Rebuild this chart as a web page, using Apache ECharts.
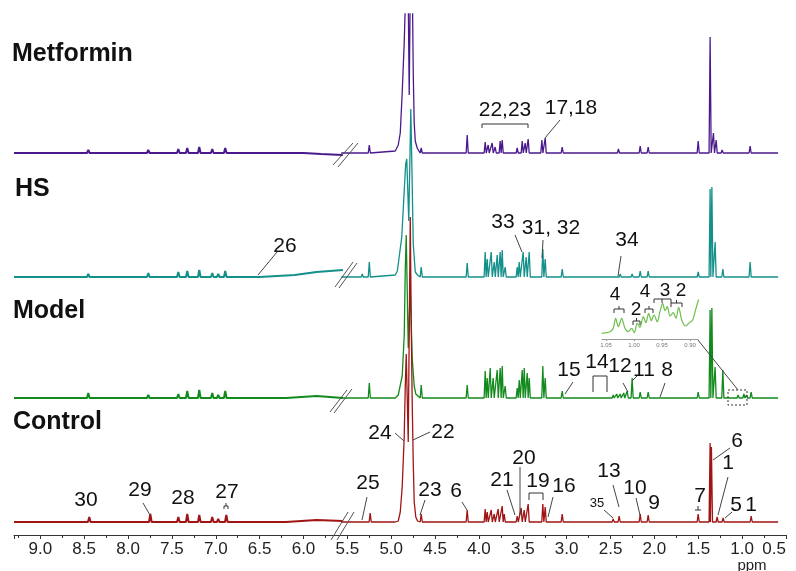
<!DOCTYPE html>
<html><head><meta charset="utf-8">
<script src="https://cdn.jsdelivr.net/npm/echarts@6/dist/echarts.min.js"></script>
<style>html,body{margin:0;padding:0;background:#fff}#c{width:796px;height:571px}</style>
</head><body><div id="c"></div>
<script>
// ---------------- DATA (ppm, intensity above each trace's own baseline) ----------------
const traceNames = ['Metformin', 'HS', 'Model', 'Control'];

// left part (9.3 - 5.55 ppm): broad shape + sharp peaks
const metforminLeftShape = [[9.3,0],[6.0,0],[5.8,-1],[5.55,-2]];
const metforminLeftPeaks = [[8.453,3],[7.769,3],[7.427,4],[7.325,5],[7.188,6],[7.040,4],[6.972,2],[6.892,5]];
const hsLeftShape = [[9.3,0],[6.5,0],[6.1,2],[5.85,5],[5.55,7]];
const hsLeftPeaks = [[8.453,3],[7.769,4],[7.427,5],[7.325,6],[7.188,7],[7.040,4],[6.972,3],[6.892,6]];
const modelLeftShape = [[9.3,0],[6.2,0],[5.85,2],[5.55,0]];
const modelLeftPeaks = [[8.453,5],[7.769,3],[7.427,4],[7.325,7],[7.188,8],[7.040,5],[6.972,3],[6.892,7]];
const controlLeftShape = [[9.3,0],[6.2,0],[5.85,2],[5.55,1]];
const controlLeftPeaks = [[8.442,5],[7.746,8],[7.427,5],[7.325,8],[7.188,7],[7.040,5],[6.972,3],[6.880,7]];

// right part (5.57 - 0.59 ppm): water region shape + sharp peaks
const metforminRightShape = [[5.57,0],[4.954,2],[4.920,8],[4.897,20],[4.875,60],[4.852,110],[4.829,180],[4.818,260],[4.795,58],[4.772,260],[4.761,180],[4.749,80],[4.738,30],[4.726,12],[4.704,5],[4.690,3],[0.59,0]];
const metforminRightPeaks = [[5.33,2],[5.25,8],[4.658,5],[4.134,18],[3.929,11],[3.895,8],[3.849,10],[3.815,6],[3.758,12],[3.735,13],[3.564,5],[3.507,12],[3.473,10],[3.439,14],[3.283,13],[3.245,15],[3.051,6],[2.410,4],[2.162,7],[2.071,6],[1.501,12],[1.365,116],[1.327,20],[1.296,13],[1.228,3],[1.057,1],[0.989,2],[0.909,7]];
const hsRightShape = [[5.57,0],[4.954,2],[4.930,6],[4.880,40],[4.852,86],[4.835,113],[4.823,118],[4.800,56],[4.777,168],[4.761,93],[4.749,33],[4.726,5],[4.700,2],[0.59,0]];
const hsRightPeaks = [[5.33,3],[5.25,15],[4.658,10],[4.134,14],[3.929,25],[3.906,18],[3.860,25],[3.826,15],[3.792,22],[3.758,25],[3.735,27],[3.701,10],[3.564,10],[3.541,15],[3.496,25],[3.462,20],[3.427,25],[3.272,28],[3.245,18],[3.051,8],[2.823,2],[2.390,3],[2.254,3],[2.162,6],[2.071,6],[1.501,5],[1.365,88],[1.345,90],[1.308,35],[1.220,8],[0.909,15]];
const modelRightShape = [[5.57,0],[4.954,0],[4.920,3],[4.875,22],[4.852,62],[4.840,128],[4.829,163],[4.806,50],[4.783,110],[4.761,40],[4.738,12],[4.720,4],[4.700,2],[0.59,0]];
const modelRightPeaks = [[5.33,1],[5.25,15],[4.658,13],[4.134,13],[3.929,27],[3.906,20],[3.872,30],[3.838,20],[3.792,28],[3.758,30],[3.735,32],[3.701,12],[3.564,10],[3.541,18],[3.507,28],[3.484,30],[3.450,25],[3.427,20],[3.272,32],[3.245,20],[3.051,7],[2.698,2],[2.470,3],[2.430,4],[2.390,4],[2.350,5],[2.310,7],[2.254,20],[2.162,6],[2.071,6],[1.501,6],[1.365,88],[1.345,90],[1.308,31],[1.220,28],[1.045,3],[0.980,4],[0.950,3],[0.897,6]];
const controlRightShape = [[5.57,0],[4.954,0],[4.920,1],[4.897,10],[4.875,35],[4.852,85],[4.840,135],[4.829,168],[4.806,80],[4.783,305],[4.772,200],[4.761,120],[4.749,60],[4.738,20],[4.720,5],[4.700,1],[0.59,0]];
const controlRightPeaks = [[5.33,2],[5.24,9],[4.658,8],[4.134,12],[3.929,13],[3.906,10],[3.860,12],[3.826,8],[3.781,13],[3.735,16],[3.712,8],[3.564,6],[3.519,14],[3.484,12],[3.439,18],[3.272,18],[3.245,15],[3.051,8],[2.470,3],[2.402,6],[2.162,8],[2.071,7],[1.501,8],[1.365,79],[1.350,75],[1.285,5],[1.217,4],[1.023,2],[0.897,6]];

// inset: 1.05 - 0.89 ppm region of Model
const insetTicks = [0.90, 0.95, 1.00, 1.05];
const insetTrace = [[1.0577,5.7],[1.0429,7.3],[1.0370,10.7],[1.0327,20.7],[1.0280,12.3],[1.0220,20.7],[1.0161,10.7],[1.0102,7.3],[1.0041,10.7],[0.9995,6.3],[0.9941,15.7],[0.9893,11.7],[0.9834,22.3],[0.9786,16.3],[0.9738,25.7],[0.9691,18.3],[0.9643,24],[0.9584,17.3],[0.9536,27.3],[0.9488,35.7],[0.9446,28.3],[0.9405,32.3],[0.9357,23],[0.9298,26.3],[0.9250,20.7],[0.9202,31.7],[0.9143,18.3],[0.9071,13],[0.9023,15.7],[0.8952,19],[0.8898,29.7],[0.8845,39.7]];

// ---------------- LAYOUT / STYLE ----------------
const traceOffsets = [382, 258, 137, 13];
const traceColors = ['#4a1a8c', '#14908a', '#138a1c', '#a01414'];
const font = '"Liberation Sans", Arial, sans-serif';

function build(shape, peaks, w, offset) {
  const pts = shape.map(p => [p[0], p[1]]);
  peaks.forEach(([x, h]) => { pts.push([x + w, 0]); pts.push([x, h]); pts.push([x - w, 0]); });
  pts.sort((a, b) => b[0] - a[0]);
  return pts.map(([x, h]) => [x, h + offset]);
}
const lefts = [[metforminLeftShape, metforminLeftPeaks],[hsLeftShape, hsLeftPeaks],[modelLeftShape, modelLeftPeaks],[controlLeftShape, controlLeftPeaks]];
const rights = [[metforminRightShape, metforminRightPeaks],[hsRightShape, hsRightPeaks],[modelRightShape, modelRightPeaks],[controlRightShape, controlRightPeaks]];

const series = [];
traceNames.forEach((n, i) => {
  series.push({ name: n, type: 'line', xAxisIndex: 0, yAxisIndex: 0, symbol: 'none', clip: true, silent: true,
    data: build(lefts[i][0], lefts[i][1], 0.015, traceOffsets[i]), lineStyle: { color: traceColors[i], width: 2 } });
  series.push({ name: n, type: 'line', xAxisIndex: 0, yAxisIndex: 0, symbol: 'none', clip: true, silent: true,
    data: build(rights[i][0], rights[i][1], 0.012, traceOffsets[i]), lineStyle: { color: traceColors[i], width: 1.3 } });
});
series.push({ type: 'line', xAxisIndex: 1, yAxisIndex: 1, symbol: 'none', silent: true, smooth: 0.3,
  data: insetTrace, lineStyle: { color: '#6cbf48', width: 1.2 } });

// ---------------- ANNOTATIONS ----------------
const titles = [['Metformin', 12, 54], ['HS', 15, 189], ['Model', 13, 311], ['Control', 13, 422]];
const labels = [
  ['22,23',505,110,21],['17,18',571,108,21],
  ['26',285,246,21],['33',503,222,21],['31, 32',551,228,21],['34',627,240,21],
  ['15',569,370,21],['14',597,362,21],['12',620,366,21],['11',644,370,21],['8',667,370,21],
  ['4',615,295,19],['2',636,310,19],['4',645,292,19],['3',665,291,19],['2',681,291,19],
  ['30',86,500,21],['29',140,490,21],['28',183,498,21],['27',227,492,21],['24',380,433,21],['25',368,483,21],
  ['22',443,432,21],['23',430,490,21],['6',456,491,21],['21',502,480,21],['20',524,458,21],['19',538,481,21],
  ['16',564,486,21],['35',597,503,13],['13',609,471,21],['10',635,488,21],['9',654,503,21],['7',700,496,21],
  ['6',737,441,21],['1',728,463,21],['5',736,505,21],['1',751,505,21]
];
const leaders = [
  [560,120,545,138],[277,252,258,275],[515,235,522,252],[543,240,542,258],[621,256,618,276],
  [573,382,565,394],[623,383,628,392],[637,376,632,381],[665,383,660,397],[698,340,738,390],
  [143,503,150,515],[395,433,404,441],[367,497,362,520],[430,432,413,440],[425,500,420,515],[462,502,467,510],
  [507,490,515,515],[520,467,520,515],[553,497,548,517],[604,510,613,518],[613,485,619,507],[636,498,640,515],
  [730,448,713,460],[728,477,718,515],[732,512,725,518]
];
const brackets = [
  [[482,128],[482,124],[528,124],[528,128]],
  [[593,392],[593,376],[607,376],[607,392]],
  [[529,500],[529,493],[543,493],[543,500]],
  [[224,509],[224,506],[228,506],[228,509]],[[226,503],[226,506]],
  [[695,510],[701,510]],[[698,506],[698,510]],
  [[614,313],[614,309],[624,309],[624,313]],[[619,306],[619,309]],
  [[633,325],[633,321],[640,321],[640,325]],[[636.5,318],[636.5,321]],
  [[645,313],[645,309],[653,309],[653,313]],[[649,306],[649,309]],
  [[654,303],[654,299],[662,299],[662,303]],[[662,299],[671,299],[671,303]],
  [[671,307],[671,303],[682,303],[682,307]],[[676.5,300],[676.5,303]]
];
const breaks = [
  [333,165,353,143],[338,167,358,143],
  [335,287,353,262],[339,288,357,263],
  [330,412,347,390],[334,413,352,389],
  [331,540,348,512],[337,540,354,512]
];

const graphic = [];
titles.forEach(t => graphic.push({ type: 'text', z: 100, style: { text: t[0], x: t[1], y: t[2], fill: '#111', font: 'bold 25px ' + font, align: 'left', verticalAlign: 'middle' } }));
labels.forEach(t => graphic.push({ type: 'text', z: 100, style: { text: t[0], x: t[1], y: t[2], fill: '#111', font: t[3] + 'px ' + font, align: 'center', verticalAlign: 'middle' } }));
leaders.forEach(l => graphic.push({ type: 'line', z: 100, shape: { x1: l[0], y1: l[1], x2: l[2], y2: l[3] }, style: { stroke: '#444', lineWidth: 1 } }));
brackets.forEach(b => graphic.push({ type: 'polyline', z: 100, shape: { points: b }, style: { stroke: '#333', lineWidth: 1, fill: null } }));
breaks.forEach(l => graphic.push({ type: 'line', z: 100, shape: { x1: l[0], y1: l[1], x2: l[2], y2: l[3] }, style: { stroke: '#555', lineWidth: 1 } }));
graphic.push({ type: 'rect', z: 100, shape: { x: 728, y: 390, width: 19, height: 15 }, style: { fill: null, stroke: '#333', lineWidth: 1, lineDash: [2, 2] } });
graphic.push({ type: 'text', z: 100, style: { text: 'ppm', x: 752, y: 566, fill: '#222', font: '15px ' + font, align: 'center', verticalAlign: 'middle' } });

const chart = echarts.init(document.getElementById('c'), null, { renderer: 'canvas' });
chart.setOption({
  animation: false,
  backgroundColor: '#fff',
  grid: [
    { left: 14, right: 10, top: 14, bottom: 36, outerBoundsMode: 'none' },
    { left: 602, width: 96, top: 295, height: 44, outerBoundsMode: 'none' }
  ],
  xAxis: [
    { type: 'value', gridIndex: 0, min: 0.5, max: 9.3, inverse: true, interval: 0.5,
      axisLine: { lineStyle: { color: '#333', width: 1 } },
      axisTick: { show: true, length: 4, lineStyle: { color: '#333' } },
      minorTick: { show: true, splitNumber: 2, length: 3, lineStyle: { color: '#333' } },
      axisLabel: { fontSize: 17, color: '#222', fontFamily: font, margin: 6, formatter: v => v.toFixed(1), showMaxLabel: false, alignMinLabel: 'right' },
      splitLine: { show: false } },
    { type: 'value', gridIndex: 1, min: 0.8857, max: 1.0571, inverse: true,
      axisLine: { lineStyle: { color: '#999', width: 1 } },
      axisTick: { show: true, length: 2, customValues: insetTicks, lineStyle: { color: '#999' } },
      axisLabel: { fontSize: 6, color: '#777', margin: 3, customValues: insetTicks, formatter: v => v.toFixed(2) },
      splitLine: { show: false } }
  ],
  yAxis: [
    { type: 'value', gridIndex: 0, min: 0, max: 521, show: false, splitLine: { show: false } },
    { type: 'value', gridIndex: 1, min: 0, max: 44, show: false, splitLine: { show: false } }
  ],
  series: series,
  graphic: graphic
});
</script>
</body></html>
